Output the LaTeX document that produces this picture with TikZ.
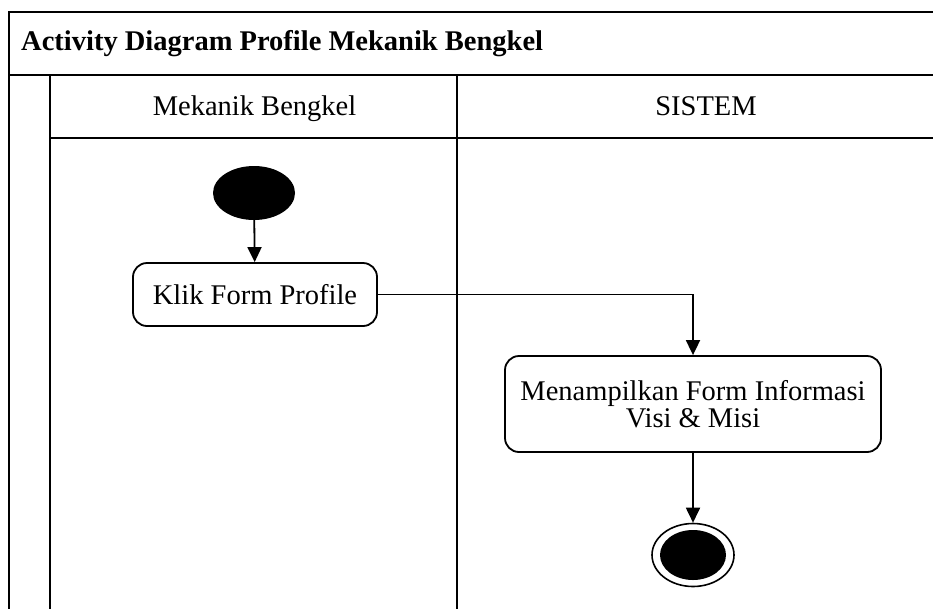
\documentclass[tikz,border=0pt]{standalone}
\usepackage{fontspec}
\setmainfont{Liberation Serif}
\usetikzlibrary{arrows.meta,shapes.geometric}
\begin{document}
\begin{tikzpicture}[x=1pt,y=1pt,
  frame/.style={line width=1.8pt},
  lbl/.style={font=\fontsize{28.5}{28}\selectfont, inner sep=0pt},
  action/.style={draw, line width=1.8pt, rounded corners=14pt, align=center,
    font=\fontsize{28.5}{27}\selectfont, inner sep=0pt},
  flow/.style={line width=1.8pt, -{Triangle[width=14pt,length=15pt]}},
  startnode/.style={ellipse, fill=black, inner sep=0pt},
  endring/.style={ellipse, draw, line width=1.6pt, fill=white, inner sep=0pt},
]
\useasboundingbox (0,0) rectangle (933,-608);
\clip (0,0) rectangle (933,-608);
\fill[white] (0,0) rectangle (933,-608);

% frame and swimlanes
\draw[frame] (950,-12) -- (9,-12) -- (9,-620);
\draw[frame] (9,-75) -- (950,-75);
\draw[frame] (50,-75) -- (50,-620);
\draw[frame] (50,-138) -- (950,-138);
\draw[frame] (457,-75) -- (457,-620);

% title and lane headers
\node[lbl, font=\fontsize{28.5}{28}\selectfont\bfseries, anchor=base west] (title) at (21,-50) {Activity Diagram Profile Mekanik Bengkel};
\node[lbl, anchor=base] (lane1) at (254.5,-115) {Mekanik Bengkel};
\node[lbl, anchor=base] (lane2) at (706,-115) {SISTEM};

% nodes
\node[startnode, minimum width=82pt, minimum height=54pt] (start) at (254,-193) {};
\node[action, minimum width=244pt, minimum height=63pt] (klik) at (255,-294.5) {Klik Form Profile};
\node[action, minimum width=376pt, minimum height=96pt] (tampil) at (693,-404) {Menampilkan Form Informasi\\Visi \& Misi};
\node[endring, minimum width=82pt, minimum height=63pt] (final) at (693,-555) {};
\node[startnode, minimum width=66pt, minimum height=50pt] (finalin) at (final.center) {};

% connectors
\draw[flow] (start) -- (klik);
\draw[flow] (klik.east) -| (tampil.north);
\draw[flow] (tampil) -- (final);
\end{tikzpicture}
\end{document}
